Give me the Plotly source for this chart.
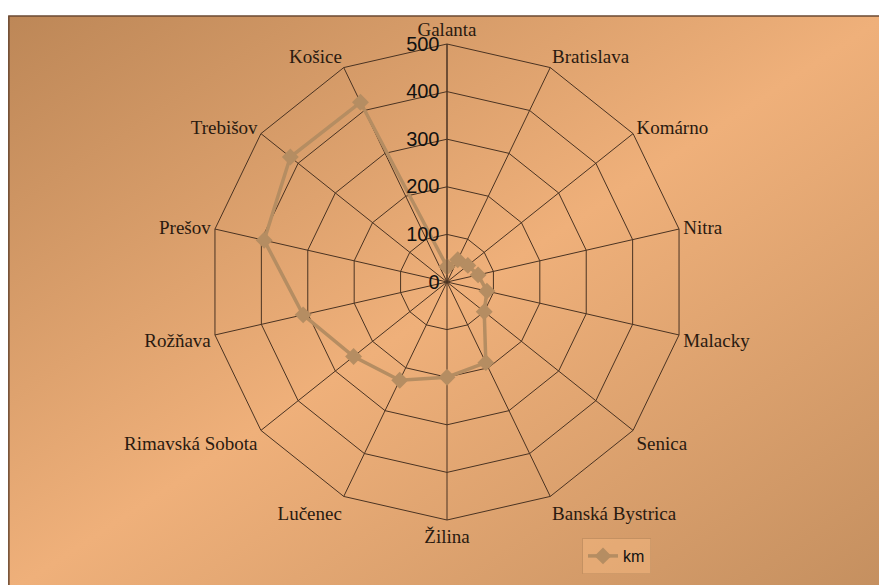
import base64

import plotly.graph_objects as go

cities = [
    "Galanta", "Bratislava", "Komárno", "Nitra", "Malacky", "Senica",
    "Banská Bystrica", "Žilina", "Lučenec", "Rimavská Sobota", "Rožňava",
    "Prešov", "Trebišov", "Košice",
]
km = [32, 52, 56, 67, 86, 100, 188, 200, 229, 251, 310, 394, 421, 419]
radial_ticks = [0, 100, 200, 300, 400, 500]

# the page body has an 8px margin, so the figure is drawn 8px in from the corner
OFF = 8
W, H = 887 - OFF, 585 - OFF
GRID = "#4a3322"
SERIES = "#b58d62"

# diagonal gradient for the chart area (dark corners, light middle)
svg = (
    '<svg xmlns="http://www.w3.org/2000/svg" width="100" height="100" preserveAspectRatio="none">'
    '<defs><linearGradient id="g" x1="0" y1="0" x2="1" y2="1">'
    '<stop offset="0" stop-color="#bd8757"/>'
    '<stop offset="0.5" stop-color="#efb07a"/>'
    '<stop offset="1" stop-color="#c48f5f"/>'
    '</linearGradient></defs>'
    '<rect width="100" height="100" fill="url(#g)"/></svg>'
)
bg_src = "data:image/svg+xml;base64," + base64.b64encode(svg.encode()).decode()

fig = go.Figure()
fig.add_trace(
    go.Scatterpolar(
        r=km + km[:1],
        theta=cities + cities[:1],
        mode="lines+markers",
        name="km",
        line=dict(color=SERIES, width=3.5),
        marker=dict(symbol="diamond", size=13, color=SERIES),
    )
)

frame_x, frame_y = 8 - OFF, 16 - OFF
cx, cy, rad = 447 - OFF, 282 - OFF, 238
fig.update_layout(
    width=W,
    height=H,
    margin=dict(l=0, r=0, t=0, b=0),
    paper_bgcolor="white",
    showlegend=True,
    legend=dict(
        x=(582 - OFF) / W, y=1 - (538 - OFF) / H, xanchor="left", yanchor="top",
        bgcolor="rgba(240,180,125,0.6)", bordercolor="rgba(160,120,80,0.3)", borderwidth=1,
        font=dict(family="Liberation Sans, Arial", size=16, color="#111"),
    ),
    images=[
        dict(
            source=bg_src, xref="paper", yref="paper", x=frame_x / W, y=1 - frame_y / H,
            sizex=1, sizey=1, sizing="stretch", layer="below",
            xanchor="left", yanchor="top",
        )
    ],
    shapes=[
        dict(
            type="rect", xref="paper", yref="paper", x0=frame_x / W + 0.001, y0=-0.01,
            x1=1.01, y1=1 - frame_y / H, line=dict(color="#6b4a33", width=1.5),
            layer="below",
        )
    ],
    polar=dict(
        domain=dict(x=[(cx - rad) / W, (cx + rad) / W], y=[(H - cy - rad) / H, (H - cy + rad) / H]),
        bgcolor="rgba(0,0,0,0)",
        gridshape="linear",
        angularaxis=dict(
            direction="clockwise", rotation=90,
            linecolor=GRID, linewidth=1, gridcolor=GRID, gridwidth=1,
            showline=True, ticks="",
            tickfont=dict(family="Liberation Serif, Times New Roman", size=19, color="#2a1a10"),
        ),
        radialaxis=dict(
            range=[0, 500], tickvals=radial_ticks, angle=90, tickangle=90,
            ticksuffix="\u00a0", side="counterclockwise", showline=True,
            linecolor=GRID, linewidth=1, gridcolor=GRID, gridwidth=1, ticks="",
            tickfont=dict(family="Liberation Sans, Arial", size=20, color="#111"),
        ),
    ),
)

fig.write_html("out.html")
